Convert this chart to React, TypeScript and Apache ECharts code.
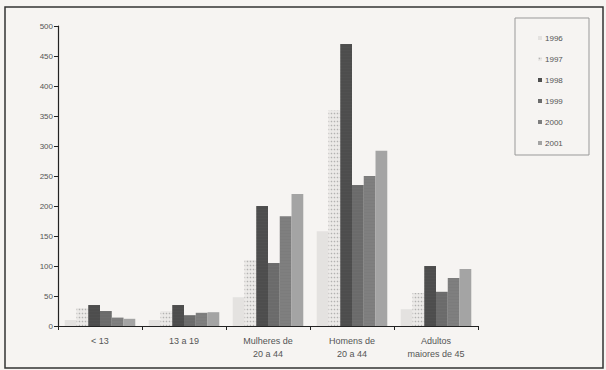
import React, { useEffect, useRef } from "react";
import * as echarts from "echarts";

const categories = ["< 13", "13 a 19", "Mulheres de\n20 a 44", "Homens de\n20 a 44", "Adultos\nmaiores de 45"];
const years = ["1996", "1997", "1998", "1999", "2000", "2001"];
const v1996 = [10, 10, 48, 158, 28];
const v1997 = [30, 25, 110, 360, 55];
const v1998 = [35, 35, 200, 470, 100];
const v1999 = [25, 18, 105, 235, 57];
const v2000 = [14, 22, 183, 250, 80];
const v2001 = [12, 23, 220, 292, 95];
const seriesValues = [v1996, v1997, v1998, v1999, v2000, v2001];
const yTicks = [0, 50, 100, 150, 200, 250, 300, 350, 400, 450, 500];

const colors = ["#e4e2e0", "#ebe9e7", "#505050", "#6e6e6e", "#7c7c7c", "#a4a4a4"];
const decals = [
  { symbol: "circle", symbolSize: 0.5, dashArrayX: [2, 0], dashArrayY: [2, 1], color: "rgba(120,120,120,0.45)" },
  { symbol: "circle", symbolSize: 0.5, dashArrayX: [3, 0], dashArrayY: [3, 1], color: "rgba(110,110,110,0.45)" },
  { symbol: "rect", symbolSize: 0.4, dashArrayX: [2, 0], dashArrayY: [2, 1], color: "rgba(40,40,40,0.35)" },
  { symbol: "rect", symbolSize: 0.4, dashArrayX: [2, 0], dashArrayY: [2, 1], color: "rgba(60,60,60,0.3)" },
  { symbol: "rect", symbolSize: 0.4, dashArrayX: [2, 0], dashArrayY: [2, 1], color: "rgba(170,170,170,0.35)" },
  { symbol: "circle", symbolSize: 0.5, dashArrayX: [2, 0], dashArrayY: [2, 1], color: "rgba(220,220,220,0.5)" },
];

export default function App() {
  const ref = useRef<HTMLDivElement>(null);
  useEffect(() => {
    if (!ref.current) return;
    const chart = echarts.init(ref.current, null, { renderer: "svg" });
    chart.setOption({
      animation: false,
      backgroundColor: "#f6f4f2",
      textStyle: { fontFamily: "Liberation Sans, Arial, sans-serif" },
      grid: { left: 58, right: 128, top: 26, bottom: 44, containLabel: false },
      legend: {
        orient: "vertical",
        left: 533,
        top: 29,
        itemGap: 13,
        itemWidth: 4,
        itemHeight: 4,
        icon: "rect",
        data: years,
        textStyle: { fontSize: 8, color: "#555", padding: [0, 0, 0, -2] },
      },
      xAxis: {
        type: "category",
        data: categories,
        axisLine: { lineStyle: { color: "#222", width: 1.2 } },
        axisTick: { show: true, length: 4, lineStyle: { color: "#222" } },
        axisLabel: { fontSize: 9, color: "#555", lineHeight: 13, margin: 8 },
        splitLine: { show: false },
      },
      yAxis: {
        type: "value",
        min: 0,
        max: 500,
        interval: 50,
        axisLine: { show: true, lineStyle: { color: "#222", width: 1.2 } },
        axisTick: { show: true, length: 4, lineStyle: { color: "#222" } },
        axisLabel: { fontSize: 8, color: "#555", margin: 5, formatter: (v: number) => (yTicks.includes(v) ? String(v) : "") },
        splitLine: { show: false },
      },
      series: years.map((y, i) => ({
        name: y,
        type: "bar",
        data: seriesValues[i],
        barGap: "0%",
        barCategoryGap: "16%",
        itemStyle: { color: colors[i], decal: decals[i] },
      })),
      graphic: [
        {
          type: "rect",
          shape: { x: 5, y: 7, width: 598, height: 361 },
          style: { fill: "none", stroke: "#333", lineWidth: 1.5 },
          silent: true,
        },
        {
          type: "rect",
          shape: { x: 515, y: 18, width: 74, height: 137 },
          style: { fill: "none", stroke: "#999", lineWidth: 1 },
          silent: true,
        },
      ],
    });
    return () => chart.dispose();
  }, []);
  return <div ref={ref} style={{ position: "fixed", left: 0, top: 0, width: 606, height: 370 }} />;
}
